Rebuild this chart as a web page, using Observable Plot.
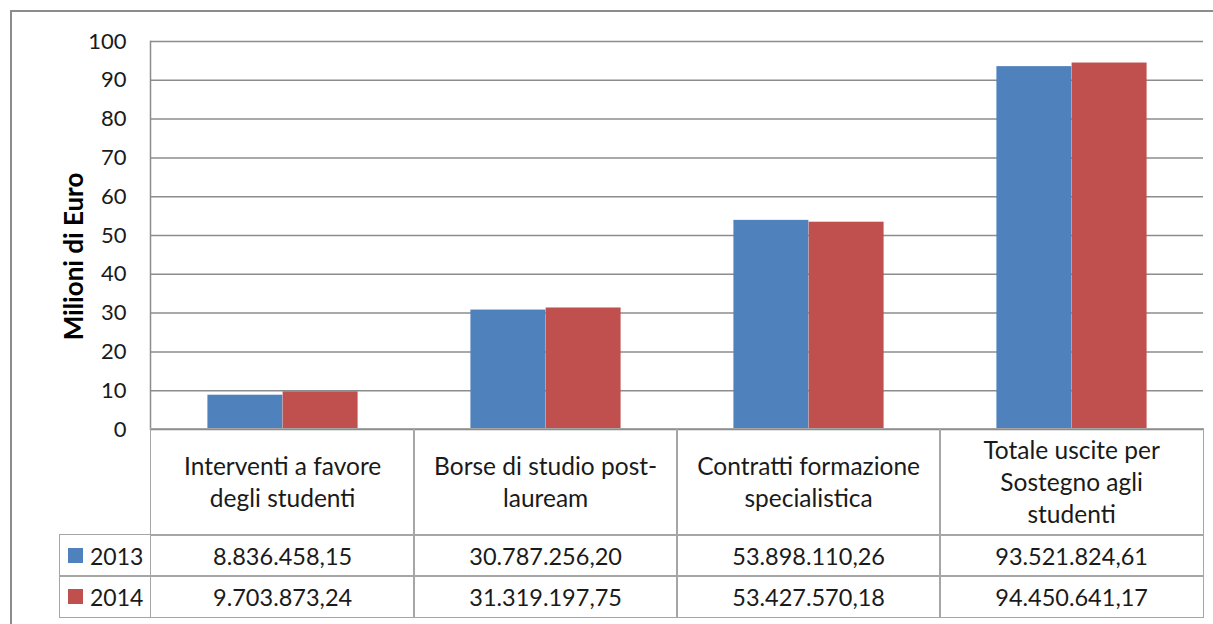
<!DOCTYPE html>
<html>
<head>
<meta charset="utf-8">
<script src="https://cdn.jsdelivr.net/npm/d3@7"></script>
<script src="https://cdn.jsdelivr.net/npm/@observablehq/plot@0.6"></script>
<style>
html,body{margin:0;padding:0;background:#fff;overflow:hidden;}
#wrap{position:relative;width:1213px;height:624px;overflow:hidden;font-family:Lato,"Noto Sans",sans-serif;color:#1a1a1a;}
#frame{position:absolute;left:10px;top:10px;width:1400px;height:800px;border:2px solid #8c8c8c;box-sizing:border-box;}
#chart{position:absolute;left:0;top:0;}
.cell{position:absolute;box-sizing:border-box;border:1.5px solid #a6a6a6;display:flex;align-items:center;justify-content:center;text-align:center;font-size:23.5px;}
.hdr{line-height:32px;font-size:24.5px;}
.sw{display:inline-block;width:15px;height:15px;margin-right:7px;}
</style>
</head>
<body>
<div id="wrap">
  <div id="frame"></div>
  <div id="chart"></div>
</div>
<script>
// ---- data ----
const categories = [
  "Interventi a favore degli studenti",
  "Borse di studio post-lauream",
  "Contratti formazione specialistica",
  "Totale uscite per Sostegno agli studenti"
];
const categoryLines = [
  ["Interventi a favore", "degli studenti"],
  ["Borse di studio post-", "lauream"],
  ["Contratti formazione", "specialistica"],
  ["Totale uscite per", "Sostegno agli", "studenti"]
];
const years = ["2013", "2014"];
const values2013 = [8836458.15, 30787256.20, 53898110.26, 93521824.61];
const values2014 = [9703873.24, 31319197.75, 53427570.18, 94450641.17];
const yTicks = [0, 10, 20, 30, 40, 50, 60, 70, 80, 90, 100];
const yLabel = "Milioni di Euro";
const colors = ["#4F81BD", "#C0504D"];

// ---- layout ----
const W = 1213, mL = 150, mR = 10, mT = 41, zeroY = 429;
const bw = (W - mL - mR) / categories.length;
const barW = bw / 3.5;
const outer = (bw - 2 * barW) / 2;

const rows2013 = categories.map((c, i) => ({cat: c, v: values2013[i] / 1e6}));
const rows2014 = categories.map((c, i) => ({cat: c, v: values2014[i] / 1e6}));

const chart = Plot.plot({
  width: W,
  height: zeroY + 1,
  marginLeft: mL,
  marginRight: mR,
  marginTop: mT,
  marginBottom: 1,
  style: {fontFamily: "Lato, 'Noto Sans', sans-serif", color: "#1a1a1a", background: "transparent", overflow: "visible"},
  x: {type: "band", domain: categories, padding: 0, axis: null},
  y: {domain: [0, 100], axis: null},
  marks: [
    Plot.gridY(yTicks, {stroke: "#8c8c8c", strokeOpacity: 1, strokeWidth: 1.5}),
    Plot.frame({anchor: "left", stroke: "#8c8c8c", strokeWidth: 1.5}),
    Plot.barY(rows2013, {x: "cat", y: "v", fill: colors[0], insetLeft: outer, insetRight: outer + barW}),
    Plot.barY(rows2014, {x: "cat", y: "v", fill: colors[1], insetLeft: outer + barW, insetRight: outer}),
    Plot.axisY(yTicks, {tickSize: 0, tickPadding: 24, fontSize: 22, label: null, tickFormat: d => d}),
    Plot.text([yLabel], {frameAnchor: "left", textAnchor: "middle", dx: -76, dy: 21, rotate: -90, fontWeight: "bold", fontSize: 26, fill: "#000"})
  ]
});
document.getElementById("chart").appendChild(chart);

// ---- data table below chart ----
const fmt = d3.formatLocale({decimal: ",", thousands: ".", grouping: [3], currency: ["€", ""]}).format(",.2f");
const xs = chart.scale("x");
const xPos = c => (xs.apply ? xs.apply(c) : mL + categories.indexOf(c) * bw);
const wrap = document.getElementById("wrap");
const hdrTop = zeroY, hdrH = 106, rowH = 41, rowLabelLeft = 59;

function cell(left, top, width, height, cls) {
  const d = document.createElement("div");
  d.className = "cell " + (cls || "");
  Object.assign(d.style, {left: left + "px", top: top + "px", width: width + "px", height: height + "px"});
  wrap.appendChild(d);
  return d;
}
categories.forEach((c, i) => {
  const x0 = xPos(c) - 0.75;
  const h = cell(x0, hdrTop - 0.75, bw + 1.5, hdrH + 1.5, "hdr");
  h.innerHTML = "<div>" + categoryLines[i].join("<br>") + "</div>";
  [values2013, values2014].forEach((vals, r) => {
    const d = cell(x0, hdrTop + hdrH + r * rowH - 0.75, bw + 1.5, rowH + 1.5);
    d.textContent = fmt(vals[i]);
  });
});
years.forEach((y, r) => {
  const d = cell(rowLabelLeft, hdrTop + hdrH + r * rowH - 0.75, mL - rowLabelLeft + 0.75, rowH + 1.5);
  d.style.justifyContent = "flex-start";
  d.style.paddingLeft = "8px";
  d.style.fontSize = "23px";
  d.innerHTML = `<span class="sw" style="background:${colors[r]}"></span>${y}`;
});
</script>
</body>
</html>
